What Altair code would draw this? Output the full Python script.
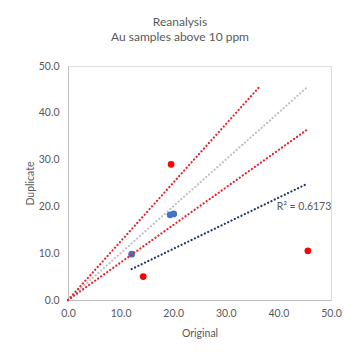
import altair as alt
import pandas as pd

# Data
red_x = [19.6, 14.3, 45.6]
red_y = [29.0, 5.0, 10.5]
blue_x = [12.1, 19.4, 20.1]
blue_y = [9.8, 18.2, 18.4]

# Reference lines (1:1, +25%, -20%) and zero-intercept trendline endpoints
line_names = ["one", "one", "upper", "upper", "lower", "lower", "trend", "trend"]
line_x = [0.0, 45.7, 0.0, 36.5, 0.0, 45.7, 12.1, 45.6]
line_y = [0.0, 45.7, 0.0, 45.7, 0.0, 36.6, 6.6, 24.9]

r2_label = "R² = 0.6173"
r2_pos = (39.7, 19.8)
title_lines = ["Reanalysis", "Au samples above 10 ppm"]
ticks = [0, 10, 20, 30, 40, 50]

W, H = 263, 234
FONT = "Lato"
GRAY = "#595959"

pts_red = pd.DataFrame({"x": red_x, "y": red_y})
pts_blue = pd.DataFrame({"x": blue_x, "y": blue_y})
lines = pd.DataFrame({"name": line_names, "x": line_x, "y": line_y})

xs = alt.Scale(domain=[0, 50], nice=False)
ys = alt.Scale(domain=[0, 50], nice=False)

xax = alt.Axis(values=ticks, format=".1f", title="Original", grid=False, ticks=False,
               labelFlush=False, labelOverlap=False,
               domainColor="#bfbfbf", labelColor=GRAY, titleColor=GRAY,
               labelFont=FONT, titleFont=FONT, labelFontSize=10.5, titleFontSize=10.5,
               titleFontWeight="normal", labelPadding=8, titlePadding=10)
yax = alt.Axis(values=ticks, format=".1f", title="Duplicate", grid=False, ticks=False,
               labelFlush=False, labelOverlap=False,
               domainColor="#bfbfbf", labelColor=GRAY, titleColor=GRAY,
               labelFont=FONT, titleFont=FONT, labelFontSize=10.5, titleFontSize=10.5,
               titleFontWeight="normal", labelPadding=9, titlePadding=3)

base_x = alt.X("x:Q", scale=xs, axis=xax)
base_y = alt.Y("y:Q", scale=ys, axis=yax)

blue = alt.Chart(pts_blue).mark_circle(size=45, opacity=1, color="#4472c4").encode(x=base_x, y=base_y)

def line_layer(name, color):
    return alt.Chart(lines).transform_filter(alt.datum.name == name).mark_line(
        color=color, strokeWidth=2.2, strokeDash=[0.1, 3.6], strokeCap="round"
    ).encode(x=alt.X("x:Q", scale=xs), y=alt.Y("y:Q", scale=ys))

l_one = line_layer("one", "#bfbfbf")
l_up = line_layer("upper", "#e8202a")
l_lo = line_layer("lower", "#e8202a")
l_tr = line_layer("trend", "#203864")

red = alt.Chart(pts_red).mark_circle(size=45, opacity=1, color="#ff0000").encode(
    x=alt.X("x:Q", scale=xs), y=alt.Y("y:Q", scale=ys))

r2 = alt.Chart(pd.DataFrame({"x": [r2_pos[0]], "y": [r2_pos[1]], "t": [r2_label]})).mark_text(
    align="left", baseline="middle", font=FONT, fontSize=10.5, color=GRAY
).encode(x=alt.X("x:Q", scale=xs), y=alt.Y("y:Q", scale=ys), text="t:N")

title = alt.Chart(pd.DataFrame({"t": title_lines, "yy": [-44, -29]})).mark_text(
    align="center", baseline="middle", font=FONT, fontSize=12, color=GRAY
).encode(x=alt.value(112), y=alt.Y("yy:Q", scale=None), text="t:N")

chart = alt.layer(blue, l_one, l_up, l_lo, l_tr, red, r2, title).properties(
    width=W, height=H,
    autosize=alt.AutoSizeParams(type="none"),
    padding={"left": 60, "top": 58, "right": 21, "bottom": 52},
).configure_view(stroke=None).configure(background="white")

chart.save("out.html", embed_options={"renderer": "svg", "actions": False})
